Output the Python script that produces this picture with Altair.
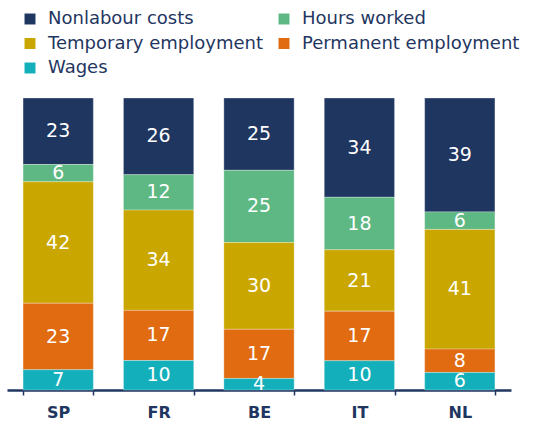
import altair as alt
import pandas as pd

countries = ["SP", "FR", "BE", "IT", "NL"]
# legend order (column-major layout gives the reference's row-major reading)
legend_order = ["Nonlabour costs", "Temporary employment", "Wages", "Hours worked", "Permanent employment"]
colors = ["#1f3661", "#c9a700", "#13afba", "#5db883", "#e06b10"]
# stack order from bottom
stack_order = ["Wages", "Permanent employment", "Temporary employment", "Hours worked", "Nonlabour costs"]

nonlabour = [23, 26, 25, 34, 39]
hours = [6, 12, 25, 18, 6]
temporary = [42, 34, 30, 21, 41]
permanent = [23, 17, 17, 17, 8]
wages = [7, 10, 4, 10, 6]

series = {
    "Nonlabour costs": nonlabour,
    "Hours worked": hours,
    "Temporary employment": temporary,
    "Permanent employment": permanent,
    "Wages": wages,
}

rows = []
for comp, vals in series.items():
    for c, v in zip(countries, vals):
        rows.append({"country": c, "component": comp, "value": v, "ord": stack_order.index(comp)})
df = pd.DataFrame(rows)

FONT = "DejaVu Sans"
NAVY = "#1f3661"

base = alt.Chart(df).transform_stack(
    stack="value", groupby=["country"], sort=[{"field": "ord", "order": "ascending"}],
    as_=["y0", "y1"], offset="normalize"
).transform_calculate(mid="(datum.y0 + datum.y1) / 2")

x = alt.X("country:N", sort=countries, title=None,
          scale=alt.Scale(paddingInner=0.3, paddingOuter=0.16),
          axis=alt.Axis(labelAngle=0, labelFont=FONT, labelFontSize=16, labelFontWeight="bold",
                        labelColor=NAVY, labelPadding=9, domainColor=NAVY, domainWidth=2.5,
                        tickColor=NAVY, tickWidth=1.5, tickSize=5, tickBand="extent"))

yscale = alt.Scale(domain=[0, 1])

bars = base.mark_bar(stroke="white", strokeWidth=0.5, strokeOpacity=0.6).encode(
    x=x,
    y=alt.Y("y0:Q", scale=yscale, axis=None),
    y2="y1:Q",
    color=alt.Color("component:N", scale=alt.Scale(domain=legend_order, range=colors),
                    legend=alt.Legend(title=None, orient="none", legendX=14, legendY=-88,
                                      columns=2, direction="vertical", symbolType="square",
                                      symbolSize=120, symbolStrokeWidth=0, labelFont=FONT,
                                      labelFontSize=18, labelColor=NAVY, labelLimit=400,
                                      rowPadding=6.5, columnPadding=12, symbolOffset=0,
                                      labelOffset=9)),
)

labels = base.mark_text(color="white", font=FONT, fontSize=19, baseline="middle").encode(
    x=alt.X("country:N", sort=countries),
    y=alt.Y("mid:Q", scale=yscale),
    text="value:Q",
)

chart = (bars + labels).properties(
    width=504, height=292,
    autosize=alt.AutoSizeParams(type="none"),
    padding={"left": 7, "top": 98, "right": 34, "bottom": 33},
).configure_view(stroke=None)

chart.save("out.html", embed_options={"renderer": "svg", "actions": False})
